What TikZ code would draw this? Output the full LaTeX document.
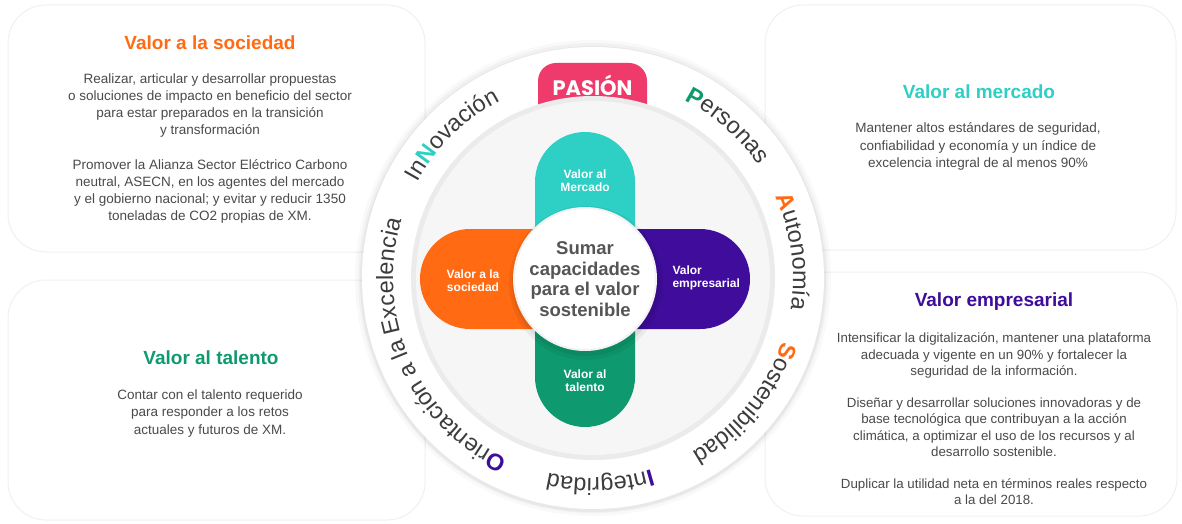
\documentclass[tikz,border=0pt]{standalone}
\usepackage{fontspec}
\setmainfont{Liberation Sans}
\newfontfamily\pasionfont{Poppins}
\usetikzlibrary{decorations.text}

\definecolor{sociedad}{HTML}{FF6A13}
\definecolor{mercado}{HTML}{2ECFC4}
\definecolor{talento}{HTML}{0E9A6E}
\definecolor{empresa}{HTML}{3F0C9C}
\definecolor{pasion}{HTML}{EE3B6B}
\definecolor{bodygray}{HTML}{4A4A4A}
\definecolor{ringgray}{HTML}{3C3C3C}
\definecolor{hubgray}{HTML}{555555}

% letters on the ring
\newcommand{\ringfont}{\fontsize{23.5}{23.5}\selectfont\color{ringgray}}
\newcommand{\capteal}{\fontsize{23.5}{23.5}\selectfont\bfseries\color{mercado}}
\newcommand{\capgreen}{\fontsize{23.5}{23.5}\selectfont\bfseries\color{talento}}
\newcommand{\caporange}{\fontsize{23.5}{23.5}\selectfont\bfseries\color{sociedad}}
\newcommand{\cappurple}{\fontsize{23.5}{23.5}\selectfont\bfseries\color{empresa}}

\begin{document}
\begin{tikzpicture}[x=1pt, y=1pt,
    panel/.style={draw=gray!12, line width=1, fill=white, rounded corners=38},
    heading/.style={font=\fontsize{19}{22}\selectfont\bfseries},
    body/.style={font=\fontsize{13.5}{17.1}\selectfont, text=bodygray, align=center},
    armlabel/.style={font=\fontsize{12}{13}\selectfont\bfseries, text=white, align=center},
    hub/.style={circle, fill=white, draw=gray!10, line width=2, minimum size=142, inner sep=0,
        font=\fontsize{18.5}{20.5}\selectfont\bfseries, text=hubgray, align=center},
    ringword/.style={decorate, decoration={text along path, text align=center, text={#1}}}
]
\useasboundingbox (0,0) rectangle (1182,523);
\coordinate (ring) at (593,245);
\coordinate (cross) at (585,244);

% background panels
\draw[panel] (8,271) rectangle (425,518);
\draw[panel] (8,3) rectangle (425,243);
\draw[panel] (765,273) rectangle (1176,518);
\draw[panel] (765,7) rectangle (1177,251);

% outer ring
\fill[black, opacity=.025] (ring) circle[radius=238];
\fill[black, opacity=.03] (ring) circle[radius=235];
\fill[black, opacity=.04] (ring) ++(0,-1) circle[radius=233];
\fill[white] (ring) circle[radius=231];

% pasion tab, then the inner disk over it
\fill[pasion, rounded corners=18] (538,380) rectangle (647,460);
\fill[gray!16] (ring) circle[radius=182];
\fill[gray!7] (ring) circle[radius=177];

% the four arms
\fill[mercado] (cross) ++(-50,0) -- ++(0,97) arc[start angle=180, end angle=0, radius=50] -- ++(0,-97) -- cycle;
\fill[talento] (cross) ++(50,0) -- ++(0,-98) arc[start angle=0, end angle=-180, radius=50] -- ++(0,98) -- cycle;
\fill[sociedad] (cross) ++(0,50) -- ++(-115,0) arc[start angle=90, end angle=270, radius=50] -- ++(115,0) -- cycle;
\fill[empresa] (cross) ++(0,-50) -- ++(115,0) arc[start angle=-90, end angle=90, radius=50] -- ++(-115,0) -- cycle;

\node[armlabel] (arm-mer) at (585,342) {Valor al\\Mercado};
\node[armlabel] (arm-soc) at (473,242) {Valor a la\\sociedad};
\node[armlabel, align=left, anchor=west] (arm-emp) at (669,245) {Valor\\empresarial};
\node[armlabel] (arm-tal) at (585,142) {Valor al\\talento};

% hub with shadow
\fill[black, opacity=.05] (cross) ++(1,-4) circle[radius=77];
\fill[black, opacity=.06] (cross) ++(1,-3) circle[radius=74];
\node[hub] (hub) at (cross) {Sumar\\capacidades\\para el valor\\sostenible};

\node[text=white, font=\pasionfont\fontsize{21}{21}\selectfont\bfseries] (pasion) at (592.5,438) {PASIÓN};

% values around the ring
\path[ringword={|\ringfont|In|\capteal|N|\ringfont|ovación}]
    (ring) ++(166:200) arc[start angle=166, end angle=103, radius=200];
\path[ringword={|\capgreen|P|\ringfont|ersonas}]
    (ring) ++(80:200) arc[start angle=80, end angle=17, radius=200];
\path[ringword={|\caporange|A|\ringfont|utonomía}]
    (ring) ++(40:200) arc[start angle=40, end angle=-25, radius=200];
\path[ringword={|\caporange|S|\ringfont|ostenibilidad}]
    (ring) ++(-8:200) arc[start angle=-8, end angle=-71, radius=200];
\path[ringword={|\cappurple|I|\ringfont|ntegridad}]
    (ring) ++(-58:200) arc[start angle=-58, end angle=-118, radius=200];
\path[ringword={|\cappurple|O|\ringfont|rientación a la Excelencia}]
    (ring) ++(256:200) arc[start angle=256, end angle=152, radius=200];

% Valor a la sociedad
\node[heading, text=sociedad] (head-soc) at (210,480) {Valor a la sociedad};
\node[body] (body-soc) at (210,374.5) {Realizar, articular y desarrollar propuestas\\
    o soluciones de impacto en beneficio del sector\\
    para estar preparados en la transición\\
    y transformación\\[17.1pt]
    Promover la Alianza Sector Eléctrico Carbono\\
    neutral, ASECN, en los agentes del mercado\\
    y el gobierno nacional; y evitar y reducir 1350\\
    toneladas de CO2 propias de XM.};

% Valor al mercado
\node[heading, text=mercado] (head-mer) at (979,431) {Valor al mercado};
\node[body] (body-mer) at (978,376.5) {Mantener altos estándares de seguridad,\\
    confiabilidad y economía y un índice de\\
    excelencia integral de al menos 90\%};

% Valor al talento
\node[heading, text=talento] (head-tal) at (211,165) {Valor al talento};
\node[body] (body-tal) at (210,109.5) {Contar con el talento requerido\\
    para responder a los retos\\
    actuales y futuros de XM.};

% Valor empresarial
\node[heading, text=empresa] (head-emp) at (994,221) {Valor empresarial};
\node[body, font=\fontsize{13.3}{16.2}\selectfont] (body-emp) at (994,104) {Intensificar la digitalización, mantener una plataforma\\
    adecuada y vigente en un 90\% y fortalecer la\\
    seguridad de la información.\\[16.2pt]
    Diseñar y desarrollar soluciones innovadoras y de\\
    base tecnológica que contribuyan a la acción\\
    climática, a optimizar el uso de los recursos y al\\
    desarrollo sostenible.\\[16.2pt]
    Duplicar la utilidad neta en términos reales respecto\\
    a la del 2018.};
\end{tikzpicture}
\end{document}
